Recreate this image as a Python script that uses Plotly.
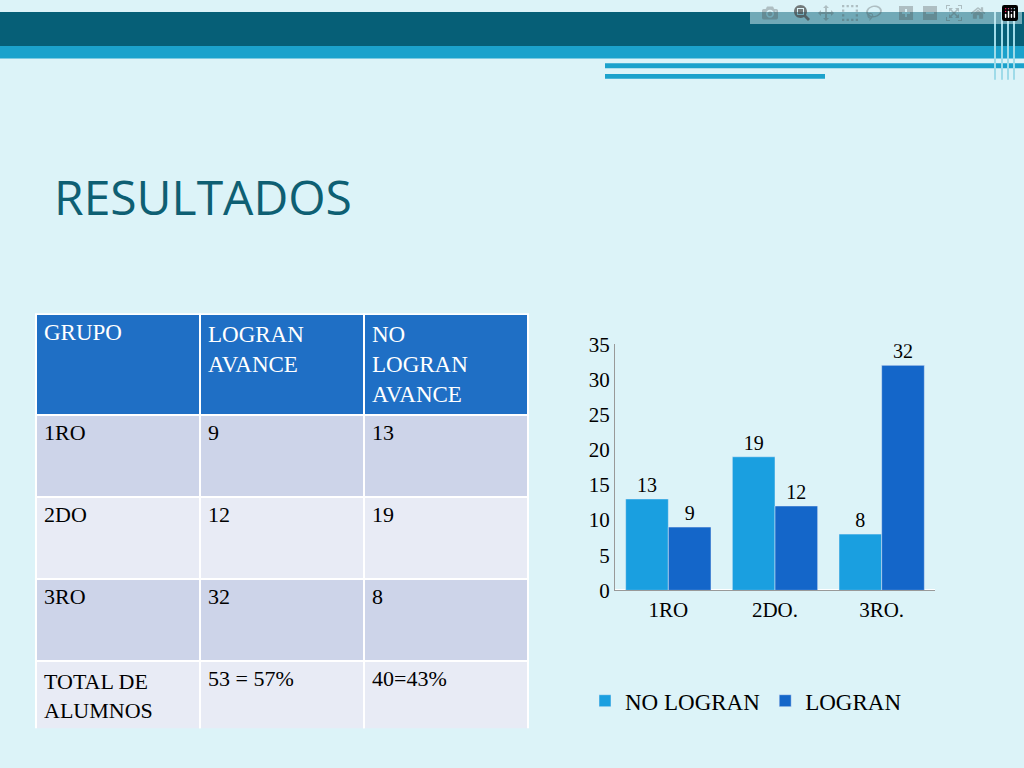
import plotly.graph_objects as go

grupos = ["1RO", "2DO", "3RO", "TOTAL DE<br>ALUMNOS"]
logran_tab = ["9", "12", "32", "53 = 57%"]
no_logran_tab = ["13", "19", "8", "40=43%"]
headers = ["GRUPO", "LOGRAN<br>AVANCE", "NO<br>LOGRAN<br>AVANCE"]

cats = ["1RO", "2DO.", "3RO."]
no_logran = [13, 19, 8]
logran = [9, 12, 32]

W, H = 1024, 768
fig = go.Figure()

fig.add_trace(go.Table(
    domain=dict(x=[36/W, 528/W], y=[1-740/H, 1-312/H]),
    columnwidth=[1, 1, 1],
    header=dict(values=headers, fill_color="#1f6fc5", line_color="white", line_width=2,
                font=dict(family="Liberation Serif", size=23, color="white"),
                align="left", height=100),
    cells=dict(values=[grupos, logran_tab, no_logran_tab],
               fill_color=[["#cdd4e9", "#e8ebf5", "#cdd4e9", "#e8ebf5"]]*3,
               line_color="white", line_width=2,
               font=dict(family="Liberation Serif", size=22, color="black"),
               align="left", height=82),
))

fig.add_trace(go.Bar(x=cats, y=no_logran, name="NO LOGRAN", marker_color="#1a9fe0",
                     text=no_logran, textposition="outside",
                     textfont=dict(family="Liberation Serif", size=20, color="black")))
fig.add_trace(go.Bar(x=cats, y=logran, name="LOGRAN", marker_color="#1466c9",
                     text=logran, textposition="outside",
                     textfont=dict(family="Liberation Serif", size=20, color="black")))

shapes = [
    dict(type="rect", xref="paper", yref="paper", x0=0, x1=1, y0=1-35/H, y1=1, fillcolor="#065f77", line_width=0),
    dict(type="rect", xref="paper", yref="paper", x0=0, x1=1, y0=1-48/H, y1=1-35/H, fillcolor="#1ba2cc", line_width=0),
    dict(type="rect", xref="paper", yref="paper", x0=605/W, x1=1, y0=1-58/H, y1=1-53/H, fillcolor="#1ba2cc", line_width=0),
    dict(type="rect", xref="paper", yref="paper", x0=605/W, x1=825/W, y0=1-69/H, y1=1-64/H, fillcolor="#1ba2cc", line_width=0),
]
for xx in [995, 1002, 1008, 1014]:
    shapes.append(dict(type="line", xref="paper", yref="paper", x0=xx/W, x1=xx/W, y0=1-70/H, y1=1,
                       line=dict(color="#9fdbe9", width=2)))

fig.update_layout(
    width=W, height=H, margin=dict(l=0, r=0, t=0, b=0),
    paper_bgcolor="#dcf3f8", plot_bgcolor="rgba(0,0,0,0)",
    shapes=shapes, barmode="group", bargap=0.2, bargroupgap=0,
    xaxis=dict(domain=[615/W, 935/W], showgrid=False, showline=True, linecolor="#999",
               tickfont=dict(family="Liberation Serif", size=21, color="black")),
    yaxis=dict(domain=[1-597/H, 1-343/H], range=[0, 35], dtick=5, showgrid=False,
               showline=True, linecolor="#999",
               tickfont=dict(family="Liberation Serif", size=21, color="black")),
    legend=dict(orientation="h", x=585/W, y=1-711/H, xanchor="left", yanchor="middle",
                font=dict(family="Liberation Serif", size=23, color="black"),
                bgcolor="rgba(0,0,0,0)"),
    annotations=[dict(text="RESULTADOS", xref="paper", yref="paper", x=52/W, y=1-190/H,
                      xanchor="left", yanchor="middle", showarrow=False,
                      font=dict(family="Open Sans", size=48, color="#0e5f73"))],
)

fig.write_html("out.html", post_script="document.body.style.margin='0';")
